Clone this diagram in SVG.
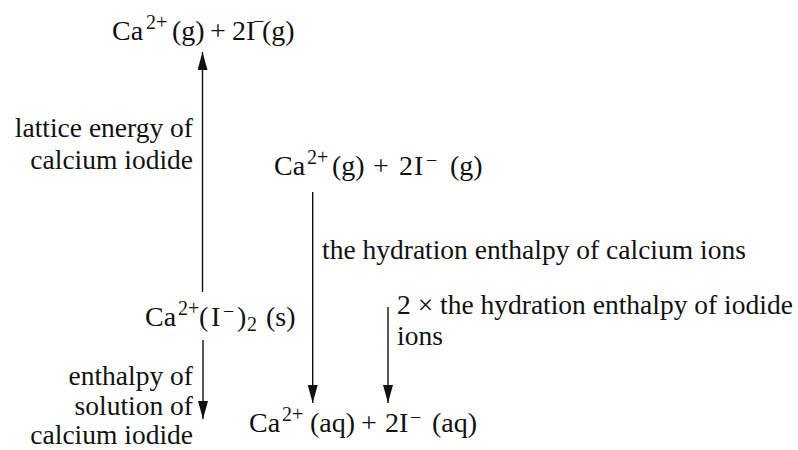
<svg xmlns="http://www.w3.org/2000/svg" width="798" height="450" viewBox="0 0 798 450">
<style>
text{font-family:"Liberation Serif","Times New Roman",serif;fill:#111}
.f{font-size:28px}
.l{font-size:27.5px}
.s{font-size:20px}
.c{stroke:#111;stroke-width:1.4;fill:none}
</style>
<defs>
<marker id="ah" markerUnits="userSpaceOnUse" markerWidth="19" markerHeight="10" refX="18" refY="5" orient="auto">
<path d="M0,0 L18,5 L0,10 Z" fill="#111"/>
</marker>
</defs>
<rect width="798" height="450" fill="#fff"/>
<g id="connectors">
<line class="c" x1="202.5" y1="292" x2="202.5" y2="52" marker-end="url(#ah)"/>
<line class="c" x1="203" y1="340" x2="203" y2="419" marker-end="url(#ah)"/>
<line class="c" x1="312.7" y1="192" x2="312.7" y2="403" marker-end="url(#ah)"/>
<line class="c" x1="388" y1="307" x2="388" y2="403" marker-end="url(#ah)"/>
</g>
<g id="node-top">
<text class="f" x="112" y="40">Ca</text>
<text class="s" x="146" y="29">2+</text>
<text class="f" x="172" y="40">(g)</text>
<text class="f" x="210" y="40">+</text>
<text class="f" x="232" y="40">2I</text>
<text class="s" x="253" y="28">−</text>
<text class="f" x="262" y="40">(g)</text>
</g>
<g id="node-gas">
<text class="f" x="274" y="175">Ca</text>
<text class="s" x="307" y="164">2+</text>
<text class="f" x="332" y="175">(g)</text>
<text class="f" x="373" y="175">+</text>
<text class="f" x="399" y="175">2</text>
<text class="f" x="414" y="175">I</text>
<text class="s" x="426" y="167">−</text>
<text class="f" x="450" y="175">(g)</text>
</g>
<g id="node-solid">
<text class="f" x="145" y="326">Ca</text>
<text class="s" x="178" y="315">2+</text>
<text class="f" x="199" y="326">(</text>
<text class="f" x="211" y="326">I</text>
<text class="s" x="223" y="318">−</text>
<text class="f" x="237" y="326">)</text>
<text class="s" x="247" y="331">2</text>
<text class="f" x="266" y="326">(s)</text>
</g>
<g id="node-aq">
<text class="f" x="249" y="432">Ca</text>
<text class="s" x="282" y="421">2+</text>
<text class="f" x="310" y="432">(aq)</text>
<text class="f" x="361" y="432">+</text>
<text class="f" x="385" y="432">2I</text>
<text class="s" x="410" y="424">−</text>
<text class="f" x="432" y="432">(aq)</text>
</g>
<g id="label-lattice">
<text class="l" x="193" y="137" text-anchor="end">lattice energy of</text>
<text class="l" x="193" y="169" text-anchor="end">calcium iodide</text>
</g>
<g id="label-solution">
<text class="l" x="193" y="385" text-anchor="end">enthalpy of</text>
<text class="l" x="193" y="415" text-anchor="end">solution of</text>
<text class="l" x="193" y="444" text-anchor="end">calcium iodide</text>
</g>
<g id="label-hyd-ca">
<text class="l" x="322" y="259">the hydration enthalpy of calcium ions</text>
</g>
<g id="label-hyd-i">
<text class="l" x="397" y="314">2 × the hydration enthalpy of iodide</text>
<text class="l" x="397" y="345">ions</text>
</g>
</svg>
